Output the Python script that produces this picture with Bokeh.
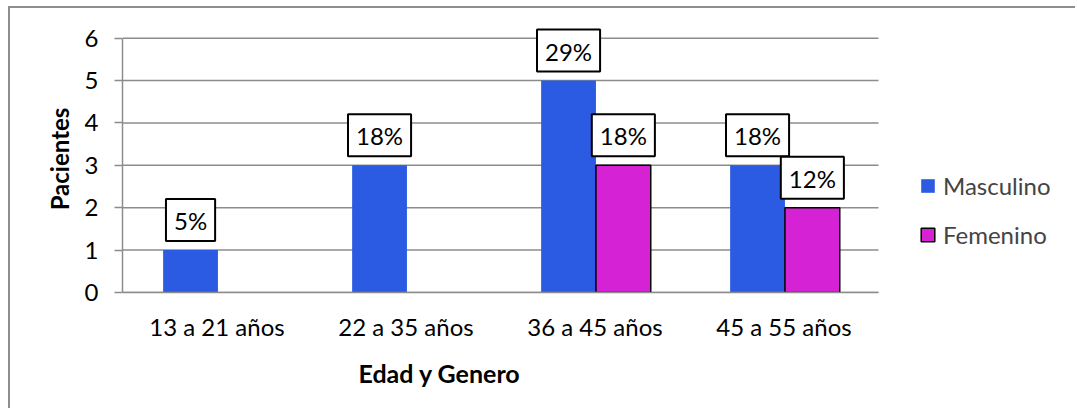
from bokeh.plotting import figure
from bokeh.models import (ColumnDataSource, Range1d, Legend, LegendItem,
                          FixedTicker, Title)
from bokeh.core.properties import value
from bokeh.transform import dodge
from bokeh.embed import file_html
from bokeh.resources import INLINE

categories = ["13 a 21 años", "22 a 35 años", "36 a 45 años", "45 a 55 años"]
masculino = [1, 3, 5, 3]
femenino = [0, 0, 3, 2]
masc_labels = ["5%", "18%", "29%", "18%"]
fem_labels = ["", "", "18%", "12%"]
y_ticks = [0, 1, 2, 3, 4, 5, 6]

FONT = "Lato"
GRAY = "#8c8c8c"

pos = list(range(len(categories)))
msrc = ColumnDataSource(dict(xi=pos, m=masculino, ml=masc_labels))
# only categories with a non-zero Femenino value are drawn
fidx = [i for i, v in enumerate(femenino) if v > 0]
fsrc = ColumnDataSource(dict(xi=fidx, f=[femenino[i] for i in fidx],
                             fl=[fem_labels[i] for i in fidx]))

n = len(categories)
# extra room on the right (legend area) so the legend is not clipped by the frame
p = figure(x_range=Range1d(-0.5, n - 0.5 + 199 / 189), y_range=Range1d(0, 6.3),
           width=1067, height=402, output_backend="svg", toolbar_location=None,
           min_border_left=112, min_border_right=0, min_border_top=17,
           min_border_bottom=118)
p.margin = (6, 0, 0, 8)
p.styles = {"border-left": "2px solid #8e8e8e", "border-top": "2px solid #8e8e8e"}
p.outline_line_color = None
p.background_fill_color = "white"
p.border_fill_color = "white"

# horizontal gridlines over the category span only
p.segment(x0=-0.5, x1=n - 0.5, y0=y_ticks, y1=y_ticks, line_color=GRAY, line_width=1.5)

rm = p.vbar(x=dodge("xi", -0.14), top="m", width=0.29, source=msrc,
            fill_color="#2A5BE2", line_color=None)
rf = p.vbar(x=dodge("xi", 0.15), top="f", width=0.29, source=fsrc,
            fill_color="#D422D4", line_color="black", line_width=1.5)

lab_kw = dict(text_font=value(FONT), text_font_size="24px", text_align="center",
              text_baseline="bottom", y_offset=-9, background_fill_color="white",
              border_line_color="black", border_line_width=2, text_color="black",
              padding=dict(left=8, right=8, top=7, bottom=6))
p.text(x=dodge("xi", -0.14), y="m", text="ml", source=msrc, **lab_kw)
p.text(x=dodge("xi", 0.15), y="f", text="fl", source=fsrc, **lab_kw)

# axes
p.yaxis.ticker = FixedTicker(ticks=y_ticks)
p.yaxis.bounds = (0, 6)
p.yaxis.major_tick_out = 8
p.yaxis.major_tick_in = 0
p.yaxis.minor_tick_line_color = None
p.yaxis.axis_line_color = GRAY
p.yaxis.axis_line_width = 1.5
p.yaxis.major_tick_line_color = GRAY
p.yaxis.major_tick_line_width = 1.5
p.yaxis.major_label_text_font = FONT
p.yaxis.major_label_text_font_size = "24px"
p.yaxis.major_label_text_color = "black"
p.yaxis.major_label_standoff = 16
p.yaxis.axis_label = "Pacientes"
p.yaxis.axis_label_text_font = FONT
p.yaxis.axis_label_text_font_style = "bold"
p.yaxis.axis_label_text_font_size = "24px"
p.yaxis.axis_label_text_color = "black"
p.yaxis.axis_label_standoff = 8

p.xaxis.ticker = FixedTicker(ticks=pos)
p.xaxis.major_label_overrides = {i: c for i, c in zip(pos, categories)}
p.xaxis.bounds = (-0.5, n - 0.5)
p.xaxis.major_tick_line_color = None
p.xaxis.major_tick_out = 0
p.xaxis.major_tick_in = 0
p.xaxis.minor_tick_line_color = None
p.xaxis.axis_line_color = GRAY
p.xaxis.axis_line_width = 1.5
p.xaxis.major_label_text_font = FONT
p.xaxis.major_label_text_font_size = "24px"
p.xaxis.major_label_text_color = "black"
p.xaxis.major_label_standoff = 19

p.xgrid.grid_line_color = None
p.ygrid.grid_line_color = None

xt = Title(text="Edad y Genero", align="left", offset=236, text_font=FONT,
           text_font_style="bold", text_font_size="25px", text_color="black",
           standoff=24)
p.add_layout(xt, "below")

legend = Legend(items=[LegendItem(label="Masculino", renderers=[rm]),
                       LegendItem(label="Femenino", renderers=[rf])],
                location=(797, 43), glyph_width=17, glyph_height=17,
                label_text_font=FONT, label_text_font_size="24px",
                label_standoff=7, spacing=20, padding=0, margin=0,
                border_line_color=None, background_fill_alpha=0)
p.add_layout(legend, "center")

open("out.html", "w").write(file_html(p, INLINE))
